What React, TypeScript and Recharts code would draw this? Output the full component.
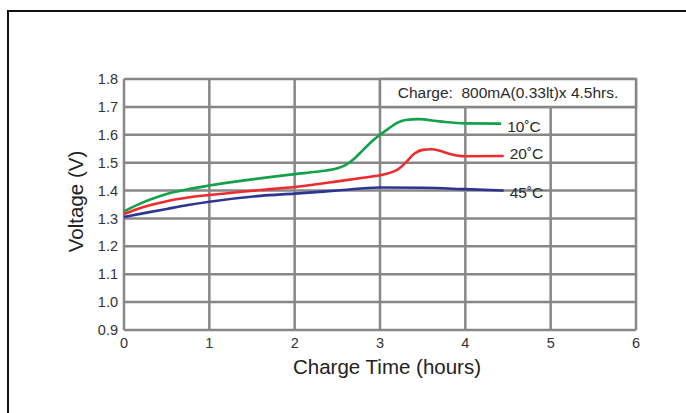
import React from 'react';
import { CartesianGrid, Line, LineChart, ReferenceArea, XAxis, YAxis } from 'recharts';

// charge curves, hours vs volts
const hours10 = [0, 0.15, 0.3, 0.5, 0.75, 1, 1.5, 2, 2.3, 2.5, 2.6, 2.7, 2.8, 2.9, 3, 3.1, 3.2, 3.3, 3.45, 3.7, 4, 4.42];
const volts10 = [1.325, 1.348, 1.367, 1.388, 1.405, 1.418, 1.44, 1.459, 1.469, 1.48, 1.492, 1.515, 1.545, 1.575, 1.6, 1.622, 1.643, 1.653, 1.656, 1.648, 1.641, 1.64];

const hours20 = [0, 0.15, 0.3, 0.5, 0.75, 1, 1.6, 2, 2.5, 2.8, 3, 3.1, 3.2, 3.3, 3.4, 3.5, 3.6, 3.7, 3.8, 3.9, 4, 4.45];
const volts20 = [1.316, 1.333, 1.347, 1.362, 1.375, 1.384, 1.402, 1.413, 1.433, 1.446, 1.455, 1.462, 1.474, 1.5, 1.532, 1.546, 1.548, 1.543, 1.533, 1.526, 1.523, 1.524];

const hours45 = [0, 0.25, 0.5, 0.75, 1, 1.6, 2, 2.5, 3, 3.5, 4, 4.45];
const volts45 = [1.305, 1.32, 1.334, 1.348, 1.36, 1.381, 1.389, 1.4, 1.411, 1.41, 1.405, 1.4];

const xTicks = [0, 1, 2, 3, 4, 5, 6];
const yTicks = [0.9, 1.0, 1.1, 1.2, 1.3, 1.4, 1.5, 1.6, 1.7, 1.8];

const toPoints = (h: number[], v: number[]) => h.map((t, i) => ({ t, v: v[i] }));

const series = [
  { name: '10˚C', data: toPoints(hours10, volts10), color: '#13a14b', dy: 8 },
  { name: '20˚C', data: toPoints(hours20, volts20), color: '#ee2b2e', dy: 3 },
  { name: '45˚C', data: toPoints(hours45, volts45), color: '#2d3592', dy: 7 },
];

const FONT = '"Liberation Sans", Arial, Helvetica, sans-serif';

const endLabel = (name: string, count: number, dy: number) => (p: any) => {
  if (p.index !== count - 1) return null;
  return (
    <text x={p.x + 6} y={p.y + dy} fontSize={15.5} fill="#2a2a2a" fontFamily={FONT}>
      {name}
    </text>
  );
};

export default function App() {
  return (
    <div style={{ position: 'absolute', left: 0, top: 0, width: 686, height: 413, overflow: 'hidden', background: '#fff' }}>
      <div
        style={{
          position: 'absolute',
          left: 7,
          top: 10,
          width: 760,
          height: 480,
          borderTop: '2.5px solid #111',
          borderLeft: '2.5px solid #111',
        }}
      />
      <div style={{ position: 'absolute', left: 0, top: 0 }}>
        <LineChart width={686} height={413} data={series[0].data} margin={{ top: 79, right: 50, bottom: 53, left: 64 }}>
          <CartesianGrid stroke="#878787" strokeWidth={2.5} />
          <XAxis
            dataKey="t"
            type="number"
            domain={[0, 6]}
            ticks={xTicks}
            axisLine={false}
            tickLine={false}
            height={30}
            tick={{ fontSize: 14.5, fill: '#333', fontFamily: FONT }}
            label={{
              content: ({ viewBox }: any) => (
                <text
                  x={viewBox.x + viewBox.width / 2 + 7}
                  y={viewBox.y + 44}
                  textAnchor="middle"
                  fontSize={20.5}
                  fill="#222"
                  fontFamily={FONT}
                >
                  Charge Time (hours)
                </text>
              ),
            }}
          />
          <YAxis
            type="number"
            domain={[0.9, 1.8]}
            ticks={yTicks}
            width={60}
            axisLine={false}
            tickLine={false}
            tickMargin={0}
            tickFormatter={(v: number) => v.toFixed(1)}
            tick={{ fontSize: 14.5, fill: '#333', fontFamily: FONT }}
            label={{
              content: ({ viewBox }: any) => (
                <text
                  transform={`translate(${viewBox.x + 19}, ${viewBox.y + 122.5}) rotate(-90)`}
                  textAnchor="middle"
                  fontSize={20.5}
                  fill="#222"
                  fontFamily={FONT}
                >
                  Voltage (V)
                </text>
              ),
            }}
          />
          <ReferenceArea
            x1={3}
            x2={6}
            y1={1.7}
            y2={1.8}
            fill="#fff"
            fillOpacity={1}
            stroke="#878787"
            strokeWidth={2.5}
            label={{ value: 'Charge:\u00a0\u00a0800mA(0.33lt)x 4.5hrs.', position: 'center', fontSize: 15.5, fill: '#2a2a2a', fontFamily: FONT }}
          />
          {series.map((s) => (
            <Line
              key={s.name}
              data={s.data}
              dataKey="v"
              type="monotone"
              stroke={s.color}
              strokeWidth={2.6}
              dot={false}
              isAnimationActive={false}
              label={endLabel(s.name, s.data.length, s.dy)}
            />
          ))}
        </LineChart>
      </div>
    </div>
  );
}
